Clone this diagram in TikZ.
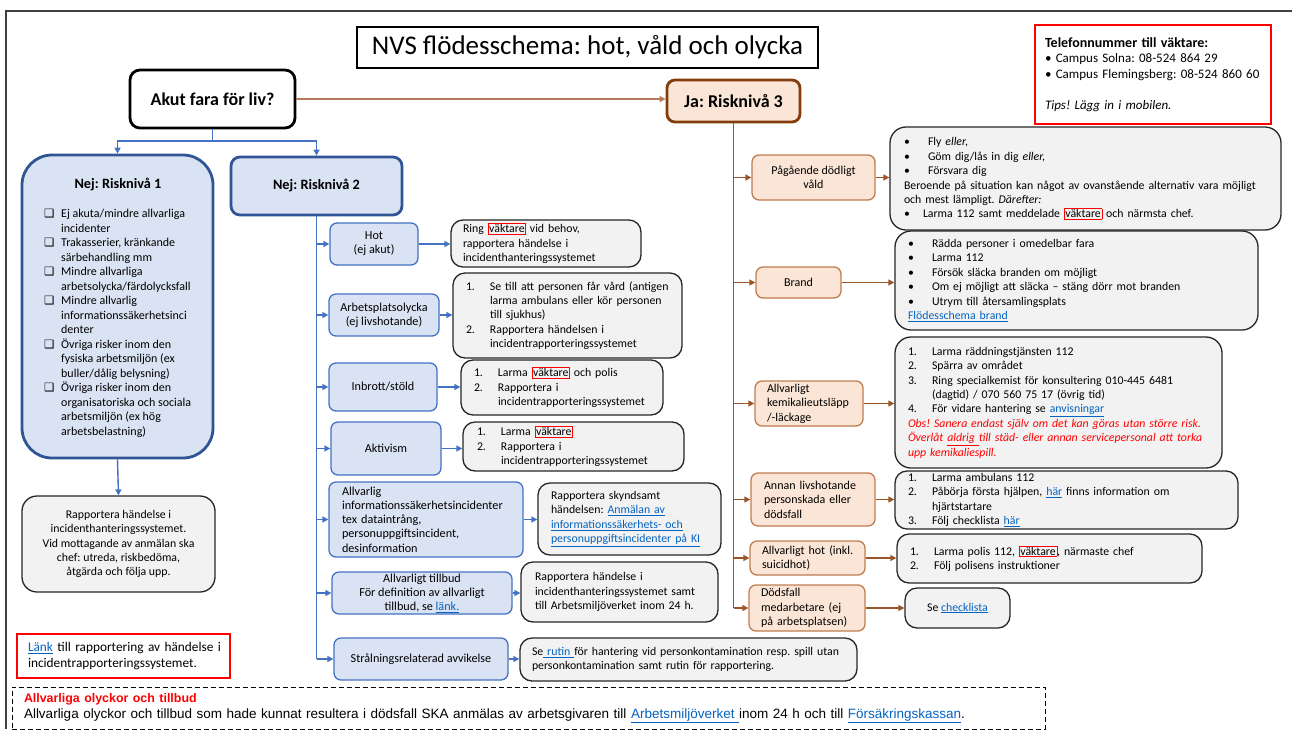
\documentclass[tikz,border=0pt]{standalone}
\usepackage{fontspec}
\setmainfont{Carlito}
\newfontfamily\arialfont{Liberation Sans}
\newfontfamily\symfont{DejaVu Sans}
\usetikzlibrary{arrows.meta}
\frenchspacing

\definecolor{nejblue}{RGB}{47,85,151}
\definecolor{subblue}{RGB}{68,114,196}
\definecolor{bluefill}{RGB}{218,227,243}
\definecolor{peach}{RGB}{251,229,214}
\definecolor{jabrown}{RGB}{132,60,12}
\definecolor{subbrown}{RGB}{192,125,80}
\definecolor{conbrown}{RGB}{155,85,40}
\definecolor{tanbrown}{RGB}{180,120,90}
\definecolor{grayfill}{RGB}{242,242,242}
\definecolor{linkblue}{RGB}{5,99,193}
\definecolor{framegray}{RGB}{64,64,64}

\begin{document}
\begin{tikzpicture}[x=1pt,y=-1pt]
	\tikzset{%
		txt/.style={font=\fontsize{11.8}{14.4}\selectfont},
		titlebox/.style={draw,line width=1.4pt,fill=white,font=\fontsize{27}{31}\selectfont},
		bigbox/.style={line width=2.8pt,font=\bfseries\fontsize{18}{21}\selectfont},
		bluesub/.style={draw=subblue,line width=1.3pt,fill=bluefill,rounded corners=7pt,align=center,inner sep=1pt,font=\fontsize{12.2}{14.2}\selectfont},
		brownsub/.style={draw=subbrown,line width=1.3pt,fill=peach,rounded corners=7pt,align=center,inner sep=1pt,font=\fontsize{12}{14.4}\selectfont},
		answer/.style={txt,draw=black!85,line width=1.3pt,fill=grayfill,rounded corners=12pt,align=left,inner sep=1pt},
		redbox/.style={draw=red,line width=1.2pt,fill=white,align=left,inner sep=1pt},
		bluecon/.style={draw=subblue,line width=1.4pt},
		bluearr/.style={bluecon,-{Triangle[length=6pt,width=6pt]}},
		browncon/.style={draw=conbrown,line width=1.4pt},
		brownarr/.style={browncon,-{Triangle[length=6pt,width=6pt]}},
	}

	\newcommand*{\lnk}[1]{\textcolor{linkblue}{\underline{#1}}}
	\newcommand*{\vakt}[1]{{\setlength{\fboxsep}{0.8pt}\setlength{\fboxrule}{0.6pt}\textcolor{red}{\fbox{\textcolor{black}{#1}}}}}
	\newcommand*{\nr}[1]{\makebox[24pt][l]{#1}}
	\newcommand*{\nrind}{\hspace*{24pt}}
	\newcommand*{\bul}{\makebox[24pt][l]{•}}
	\newcommand*{\chk}{\makebox[17pt][l]{\symfont\fontsize{11.5}{11}\selectfont ❑}}
	\newcommand*{\chkind}{\hspace*{17pt}}

	\useasboundingbox (0,0) rectangle (1292,729);
	\fill[white] (0,0) rectangle (1292,729);
	\draw[framegray,line width=2.2pt] (6,729) |- (1292,11);

	% top row
	\node[titlebox,minimum width=461pt,minimum height=41pt] (title) at (587.5,47.5) {NVS flödesschema: hot, våld och olycka};
	\node[bigbox,draw=black,fill=white,rounded corners=10pt,minimum width=165pt,minimum height=58pt] (akut) at (212.5,99) {Akut fara för liv?};
	\node[bigbox,draw=jabrown,fill=peach,rounded corners=8pt,minimum width=133pt,minimum height=42pt] (ja) at (733.5,101) {Ja: Risknivå 3};
	\node[redbox,text width=216pt,inner xsep=10pt,minimum height=99pt,font=\fontsize{13}{15.5}\selectfont] (phone) at (1153,74.5) {{\bfseries\fontsize{14}{15.5}\selectfont Telefonnummer till väktare:}\\• Campus Solna: 08-524 864 29\\\mbox{• Campus Flemingsberg: 08-524 860 60}\\[15.5pt]\textit{Tips! Lägg in i mobilen.}};

	% risknivå 1
	\node[bigbox,draw=nejblue,fill=bluefill,rounded corners=30pt,minimum width=191pt,minimum height=303pt] (nej1) at (117.5,306.5) {};
	\node[font=\bfseries\fontsize{14.3}{17}\selectfont] (nej1title) at (118,185) {Nej: Risknivå 1};
	\node[font=\fontsize{12}{14.5}\selectfont,align=left,inner sep=0pt,anchor=north west] (nej1list) at (44,209) {%
		\chk Ej akuta/mindre allvarliga\\
		\chkind incidenter\\
		\chk Trakasserier, kränkande\\
		\chkind särbehandling mm\\
		\chk Mindre allvarliga\\
		\chkind arbetsolycka/färdolycksfall\\
		\chk Mindre allvarlig\\
		\chkind informationssäkerhetsinci\\
		\chkind denter\\
		\chk Övriga risker inom den\\
		\chkind fysiska arbetsmiljön (ex\\
		\chkind buller/dålig belysning)\\
		\chk Övriga risker inom den\\
		\chkind organisatoriska och sociala\\
		\chkind arbetsmiljön (ex hög\\
		\chkind arbetsbelastning)};
	\node[answer,align=center,rounded corners=15pt,minimum width=193pt,minimum height=96pt] (rapp) at (118.5,544) {Rapportera händelse i\\incidenthanteringssystemet.\\Vid mottagande av anmälan ska\\chef: utreda, riskbedöma,\\åtgärda och följa upp.};
	\node[redbox,text width=191pt,inner xsep=11pt,minimum height=44pt,font=\fontsize{13.3}{16}\selectfont] (lank) at (123.5,656) {\mbox{\lnk{Länk} till rapportering av händelse i}\\incidentrapporteringssystemet.};

	% risknivå 2
	\node[bigbox,draw=nejblue,fill=bluefill,rounded corners=9pt,minimum width=171pt,minimum height=58pt,font=\bfseries\fontsize{14.3}{17}\selectfont] (nej2) at (316.5,186) {Nej: Risknivå 2};
	\node[bluesub,minimum width=88pt,minimum height=42pt] (hot) at (374,244) {Hot\\(ej akut)};
	\node[bluesub,minimum width=110pt,minimum height=42pt] (arbets) at (384,315) {Arbetsplatsolycka\\(ej livshotande)};
	\node[bluesub,minimum width=108pt,minimum height=48pt] (inbrott) at (383,387) {Inbrott/stöld};
	\node[bluesub,minimum width=110pt,minimum height=53pt] (aktiv) at (386,448.5) {Aktivism};
	\node[bluesub,align=left,text width=168pt,inner xsep=13pt,minimum height=75pt] (info) at (426,519.5) {Allvarlig\\\mbox{informationssäkerhetsincidenter}\\tex dataintrång,\\personuppgiftsincident,\\desinformation};
	\node[bluesub,minimum width=180pt,minimum height=42pt,inner ysep=0pt] (tillbud) at (422,593) {Allvarligt tillbud\\För definition av allvarligt\\tillbud, se \lnk{länk.}};
	\node[bluesub,minimum width=174pt,minimum height=42pt] (stral) at (421,659) {Strålningsrelaterad avvikelse};

	\node[answer,text width=166pt,inner xsep=12pt,minimum height=47pt] (rhot) at (546,243.5) {Ring \vakt{väktare} vid behov,\\rapportera händelse i\\incidenthanteringssystemet};
	\node[answer,text width=203pt,inner xsep=13pt,minimum height=85pt] (rarbets) at (567.5,315.5) {\mbox{\nr{1.}Se till att personen får vård (antigen}\\\mbox{\nrind larma ambulans eller kör personen}\\\nrind till sjukhus)\\\nr{2.}Rapportera händelsen i\\\nrind incidentrapporteringssystemet};
	\node[answer,text width=176pt,inner xsep=13pt,minimum height=55pt] (rinbrott) at (562,387.5) {\nr{1.}Larma \vakt{väktare} och polis\\\nr{2.}Rapportera i\\\mbox{\nrind incidentrapporteringssystemet}};
	\node[answer,text width=193pt,inner xsep=14pt,minimum height=49pt] (raktiv) at (573.5,446.5) {\nr{1.}Larma \vakt{väktare}\\\nr{2.}Rapportera i\\\nrind incidentrapporteringssystemet};
	\node[answer,text width=157pt,inner xsep=13pt,minimum height=72pt] (rinfo) at (629.5,519) {Rapportera skyndsamt\\händelsen: \lnk{Anmälan av}\\\mbox{\lnk{informationssäkerhets- och}}\\\mbox{\lnk{personuppgiftsincidenter på KI}}};
	\node[answer,text width=169pt,inner xsep=14pt,minimum height=60pt] (rtillbud) at (619.5,592) {Rapportera händelse i\\\mbox{incidenthanteringssystemet samt}\\\mbox{till Arbetsmiljöverket inom 24 h.}};
	\node[answer,text width=313pt,inner xsep=12pt,minimum height=43pt] (rstral) at (688.5,659.5) {\mbox{Se\lnk{ rutin }för hantering vid personkontamination resp. spill utan}\\\mbox{personkontamination samt rutin för rapportering.}};

	% risknivå 3
	\node[brownsub,minimum width=123pt,minimum height=45pt] (pagaende) at (813.5,177.5) {Pågående dödligt\\våld};
	\node[brownsub,minimum width=85pt,minimum height=31pt] (brand) at (798.5,282.5) {Brand};
	\node[brownsub,align=left,text width=84pt,inner xsep=12pt,minimum height=45pt] (kemi) at (809,403.5) {Allvarligt\\\mbox{kemikalieutsläpp}\\/-läckage};
	\node[brownsub,align=left,text width=98pt,inner xsep=13pt,minimum height=53pt] (annan) at (813,499.5) {\mbox{Annan livshotande}\\\mbox{personskada eller}\\dödsfall};
	\node[brownsub,align=left,text width=91pt,inner xsep=12pt,minimum height=34pt] (allvhot) at (807.5,558) {\mbox{Allvarligt hot (inkl.}\\suicidhot)};
	\node[brownsub,align=left,text width=92pt,inner xsep=12pt,minimum height=46pt,inner ysep=0pt] (dodsfall) at (807,608) {Dödsfall\\\mbox{medarbetare (ej}\\\mbox{på arbetsplatsen)}};

	\node[answer,rounded corners=16pt,text width=363pt,inner xsep=14pt,minimum height=103pt] (rpag) at (1085.5,178.5) {\bul Fly \textit{eller,}\\\bul Göm dig/lås in dig \textit{eller,}\\\bul Försvara dig\\\mbox{Beroende på situation kan något av ovanstående alternativ vara möjligt}\\och mest lämpligt. \textit{Därefter:}\\\makebox[19pt][l]{•}Larma 112 samt meddelade \vakt{väktare} och närmsta chef.};
	\node[answer,rounded corners=16pt,text width=337pt,inner xsep=13pt,minimum height=99pt] (rbrand) at (1076.5,280.5) {\bul Rädda personer i omedelbar fara\\\bul Larma 112\\\bul Försök släcka branden om möjligt\\\mbox{\bul Om ej möjligt att släcka – stäng dörr mot branden}\\\bul Utrym till återsamlingsplats\\\lnk{Flödesschema brand}};
	\node[answer,rounded corners=16pt,text width=301pt,inner xsep=13pt,minimum height=131pt] (rkemi) at (1058.5,402.5) {\nr{1.}Larma räddningstjänsten 112\\\nr{2.}Spärra av området\\\mbox{\nr{3.}Ring specialkemist för konsultering 010-445 6481}\\\nrind (dagtid) / 070 560 75 17 (övrig tid)\\\nr{4.}För vidare hantering se \lnk{anvisningar}\\\mbox{\textcolor{red}{\itshape Obs! Sanera endast själv om det kan göras utan större risk.}}\\\mbox{\textcolor{red}{\itshape Överlåt \underline{aldrig }till städ- eller annan servicepersonal att torka}}\\\textcolor{red}{\itshape upp kemikaliespill.}};
	\node[answer,text width=317pt,inner xsep=13pt,minimum height=58pt,inner ysep=0pt] (rannan) at (1066.5,500) {\nr{1.}Larma ambulans 112\\\mbox{\nr{2.}Påbörja första hjälpen, \lnk{här} finns information om}\\\nrind hjärtstartare\\\nr{3.}Följ checklista \lnk{här}};
	\node[answer,text width=279pt,inner xsep=13pt,minimum height=49pt] (rallvhot) at (1049.5,558.5) {\nr{1.}Larma polis 112, \vakt{väktare}, närmaste chef\\\nr{2.}Följ polisens instruktioner};
	\node[answer,align=center,minimum width=105pt,minimum height=40pt] (rdods) at (957.5,608) {Se \lnk{checklista}};

	% bottom note
	\node[draw,dash pattern=on 5pt off 3pt,line width=0.9pt,fill=white,text width=1009pt,inner xsep=12pt,minimum height=42pt,align=left,font=\arialfont\fontsize{13.5}{16}\selectfont] (allv) at (528.5,708) {\textcolor{red}{\bfseries\fontsize{12.4}{16}\selectfont Allvarliga olyckor och tillbud}\\Allvarliga olyckor och tillbud som hade kunnat resultera i dödsfall SKA anmälas av arbetsgivaren till \lnk{Arbetsmiljöverket }inom 24 h och till \lnk{Försäkringskassan}.};

	% connectors
	\coordinate (split) at (212.5,141);
	\draw[bluearr] (akut.south) -- (split) -| (nej1.north);
	\draw[bluearr] (split) -| (nej2.north);
	\draw[bluearr] (nej1.south) -- (rapp.north);
	\draw[bluecon] (nej2.south) -- (nej2.south |- stral.west);
	\foreach \n in {hot,arbets,inbrott,aktiv,info,tillbud,stral}
		\draw[bluearr] (nej2.south |- \n.west) -- (\n.west);
	\foreach \n/\m in {hot/rhot,arbets/rarbets,inbrott/rinbrott,aktiv/raktiv,info/rinfo,tillbud/rtillbud,stral/rstral}
		\draw[bluearr] (\n.east) -- (\n.east -| \m.west);

	\draw[brownarr,draw=tanbrown] (akut.east) -- (akut.east -| ja.west);
	\draw[browncon] (ja.south) -- (ja.south |- dodsfall.west);
	\foreach \n in {pagaende,brand,kemi,annan,allvhot,dodsfall}
		\draw[brownarr] (ja.south |- \n.west) -- (\n.west);
	\foreach \n/\m in {pagaende/rpag,brand/rbrand,kemi/rkemi,annan/rannan,allvhot/rallvhot,dodsfall/rdods}
		\draw[brownarr] (\n.east) -- (\n.east -| \m.west);
\end{tikzpicture}
\end{document}
